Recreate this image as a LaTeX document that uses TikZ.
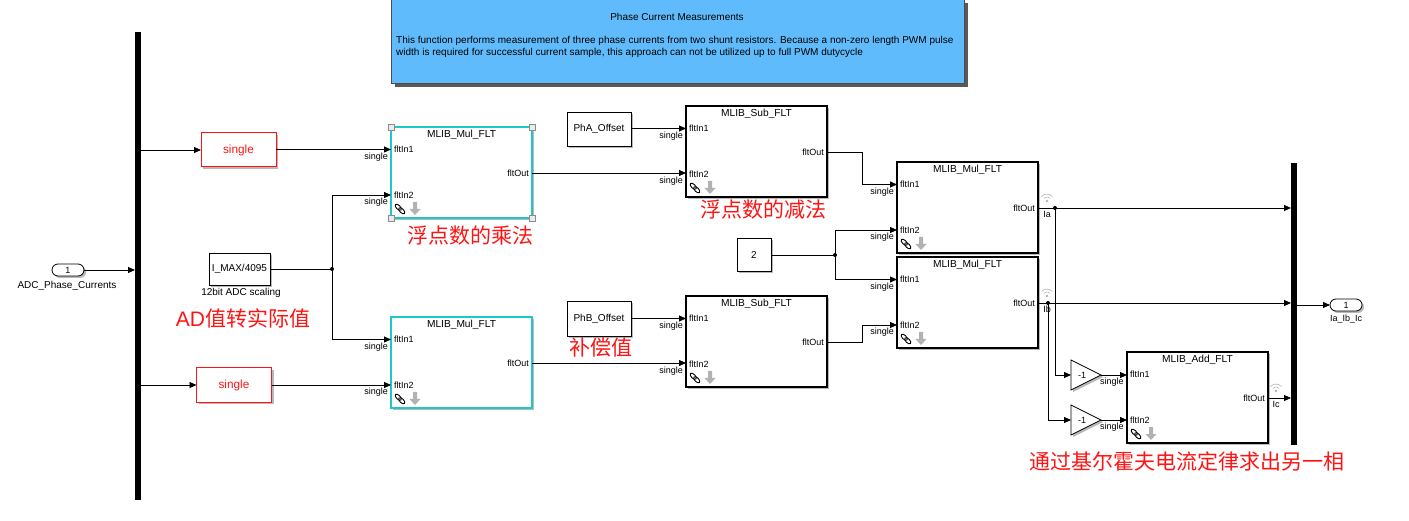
\documentclass[tikz,border=0pt]{standalone}
\usepackage{fontspec}
\setmainfont{Liberation Sans}
\newfontfamily\cjk{Noto Sans CJK SC}
\usetikzlibrary{arrows.meta,shadows,calc}
\definecolor{descblue}{RGB}{95,187,251}
\definecolor{cyanb}{RGB}{30,200,200}
\definecolor{redc}{RGB}{255,20,20}
\newcommand\fsn{\fontsize{10.2}{12}\selectfont}
\newcommand\fsd{\fontsize{10}{12}\selectfont}
\newcommand\fss{\fontsize{9}{10}\selectfont}
\newcommand\fsr{\fontsize{11.8}{13}\selectfont}
\newcommand\fcn{\cjk\fontsize{21}{23}\selectfont}
\tikzset{
  arr/.style={-{Triangle[length=7pt,width=6pt]}, line width=0.8pt},
  wire/.style={line width=0.8pt},
  shad/.style={general shadow={fill=black!28, shadow xshift=2pt, shadow yshift=-2pt}},
  mlibbox/.style={draw, line width=2pt, fill=white, shad, minimum width=141, minimum height=91, inner sep=0, outer sep=0},
  cyanbox/.style={mlibbox, draw=cyanb},
  srcbox/.style={draw, line width=0.8pt, fill=white, shad, inner sep=0, outer sep=0, font=\fsd},
  redbox/.style={srcbox, draw=redc, text=redc, line width=1pt, font=\fsr, minimum width=75, minimum height=34},
  sglab/.style={font=\fss, inner sep=0},
  redlab/.style={text=redc, font=\fcn, inner sep=0},
  icons/.pic={
    \draw[line width=0.9pt, rotate=-45] (-2.5,0) ellipse[x radius=3.9, y radius=2.0];
    \draw[line width=0.9pt, rotate=-45] (2.5,0) ellipse[x radius=3.9, y radius=2.0];
    \fill[black!30] (13,-7) -- (17,-7) -- (17,0) -- (20.5,0) -- (15,6) -- (9.5,0) -- (13,0) -- cycle;
  },
  wifi/.pic={
    \fill[black!30] (0,0) circle (1.3);
    \draw[black!30, line width=0.6pt] ($(0,0)+(-40:4)$) arc[start angle=-40, end angle=-140, radius=4];
    \draw[black!30, line width=0.6pt] ($(0,0)+(-40:7)$) arc[start angle=-40, end angle=-140, radius=7];
  },
  handle/.style={draw=black!45, fill=black!8, line width=0.5pt, minimum size=6, inner sep=0}
}
% name, style, left, top, title
\newcommand\mlib[5]{%
  \node[#2, anchor=north west] (#1) at (#3,#4) {};
  \node[font=\fsn] at ($(#1.north)+(0,8)$) {#5};
  \node[font=\fss, anchor=west, inner sep=0] at ($(#1.north west)+(3,22.5)$) {fltIn1};
  \node[font=\fss, anchor=west, inner sep=0] at ($(#1.north west)+(3,68)$) {fltIn2};
  \node[font=\fss, anchor=east, inner sep=0] at ($(#1.north east)+(-3,46)$) {fltOut};
  \coordinate (#1i1) at ($(#1.north west)+(0,22.5)$);
  \coordinate (#1i2) at ($(#1.north west)+(0,68)$);
  \coordinate (#1o) at ($(#1.north east)+(0,46)$);
  \pic at ($(#1.south west)+(9,-9)$) {icons};
}
\begin{document}
\begin{tikzpicture}[x=1pt,y=-1pt]
\useasboundingbox (0,0) rectangle (1409,521);
\fill[white] (0,0) rectangle (1409,521);

% description box
\node[draw=black!70, fill=descblue, line width=0.6pt, minimum width=573, minimum height=84, anchor=north west, inner sep=0,
      general shadow={fill=black!65, shadow xshift=3.5pt, shadow yshift=-3.5pt}] (desc) at (391,-1) {};
\node[font=\fsd] (desct) at (677,17) {Phase Current Measurements};
\node[font=\fsd, anchor=west, inner sep=0] (descl1) at (396,41) {This function performs measurement of three phase currents from two shunt resistors. Because a non-zero length PWM pulse};
\node[font=\fsd, anchor=west, inner sep=0] (descl2) at (396,53) {width is required for successful current sample, this approach can not be utilized up to full PWM dutycycle};

% bars
\node[fill=black, minimum width=6, minimum height=468, inner sep=0, outer sep=0] (bar1) at (138,266) {};
\node[fill=black, minimum width=6, minimum height=282, inner sep=0, outer sep=0] (bar2) at (1294,304) {};

% inport
\node[draw, fill=white, shad, rounded corners=6, minimum width=32, minimum height=12, inner sep=0, outer sep=0, line width=0.8pt, font=\fss] (inp) at (68,270) {1};
\node[font=\fsd] (inplab) at (67,286) {ADC\_Phase\_Currents};
\draw[arr] (inp) -- (inp -| bar1.west);

% single conversions
\node[redbox] (sg1) at (238.5,150) {single};
\node[redbox] (sg2) at (234,385) {single};
\draw[arr] (bar1.east |- sg1) -- (sg1);
\draw[arr] (bar1.east |- sg2) -- (sg2);

% scaling const
\node[srcbox, minimum width=61, minimum height=32] (imax) at (239.5,269) {I\_MAX/4095};
\node[font=\fsd] (imaxlab) at (241,293) {12bit ADC scaling};

% MLIB blocks
\mlib{mul1}{cyanbox}{391}{127}{MLIB\_Mul\_FLT}
\mlib{mul2}{cyanbox}{391}{317}{MLIB\_Mul\_FLT}
\mlib{sub1}{mlibbox}{686}{106}{MLIB\_Sub\_FLT}
\mlib{sub2}{mlibbox}{686}{296}{MLIB\_Sub\_FLT}
\mlib{mul3}{mlibbox}{897}{162}{MLIB\_Mul\_FLT}
\mlib{mul4}{mlibbox}{897}{257}{MLIB\_Mul\_FLT}
\mlib{add}{mlibbox}{1127}{352}{MLIB\_Add\_FLT}

% selection handles on mul1
\node[handle] (h1) at (mul1.north west) {};
\node[handle] (h2) at (mul1.north east) {};
\node[handle] (h3) at (mul1.south west) {};
\node[handle] (h4) at (mul1.south east) {};

% wires left
\draw[arr] (sg1.east |- mul1i1) -- (mul1i1);
\draw[arr] (sg2.east |- mul2i2) -- (mul2i2);
\coordinate (j1) at (332,269);
\draw[wire] (imax) -- (j1);
\fill (j1) circle (2);
\draw[arr] (j1) |- (mul1i2);
\draw[arr] (j1) |- (mul2i1);
\node[sglab, anchor=north east] at ($(mul1i1)+(-3,3)$) {single};
\node[sglab, anchor=north east] at ($(mul1i2)+(-3,3)$) {single};
\node[sglab, anchor=north east] at ($(mul2i1)+(-3,3)$) {single};
\node[sglab, anchor=north east] at ($(mul2i2)+(-3,3)$) {single};

% offsets
\node[srcbox, minimum width=64, minimum height=34] (pha) at (599,129) {PhA\_Offset};
\node[srcbox, minimum width=64, minimum height=35] (phb) at (599,318.5) {PhB\_Offset};
\draw[arr] (pha.east |- sub1i1) -- (sub1i1);
\draw[arr] (phb.east |- sub2i1) -- (sub2i1);
\draw[arr] (mul1o) -- (mul1o -| sub1i2);
\draw[arr] (mul2o) -- (mul2o -| sub2i2);
\node[sglab, anchor=north east] at ($(sub1i1)+(-3,3)$) {single};
\node[sglab, anchor=north east] at ($(sub1i2)+(-3,3)$) {single};
\node[sglab, anchor=north east] at ($(sub2i1)+(-3,3)$) {single};
\node[sglab, anchor=north east] at ($(sub2i2)+(-3,3)$) {single};

% const 2
\node[srcbox, minimum width=34, minimum height=33] (c2) at (754,255) {2};
\coordinate (j2) at (835,255);
\draw[wire] (c2) -- (j2);
\fill (j2) circle (2);
\draw[arr] (j2) |- (mul3i2);
\draw[arr] (j2) |- (mul4i1);
\draw[arr] (sub1o) -- ++(35,0) |- (mul3i1);
\draw[arr] (sub2o) -- ++(35,0) |- (mul4i2);
\node[sglab, anchor=north east] at ($(mul3i1)+(-3,3)$) {single};
\node[sglab, anchor=north east] at ($(mul3i2)+(-3,3)$) {single};
\node[sglab, anchor=north east] at ($(mul4i1)+(-3,3)$) {single};
\node[sglab, anchor=north east] at ($(mul4i2)+(-3,3)$) {single};

% outputs Ia Ib
\coordinate (ja) at ($(mul3o)+(17,0)$);
\coordinate (jb) at ($(mul4o)+(10,0)$);
\draw[arr] (mul3o) -- (mul3o -| bar2.west);
\draw[arr] (mul4o) -- (mul4o -| bar2.west);
\fill (ja) circle (2);
\fill (jb) circle (2);
\node[font=\fss, anchor=north, inner sep=0] (ialab) at ($(mul3o)+(9,3)$) {Ia};
\node[font=\fss, anchor=north, inner sep=0] (iblab) at ($(mul4o)+(9,3)$) {Ib};
\pic at ($(mul3o)+(9,-7)$) {wifi};
\pic at ($(mul4o)+(9,-7)$) {wifi};

% gains
\coordinate (g1i) at (1071,375);
\coordinate (g2i) at (1071,420);
\filldraw[fill=white, line width=0.8pt, shad] (1071,360) -- (1101,375) -- (1071,390) -- cycle;
\filldraw[fill=white, line width=0.8pt, shad] (1071,405) -- (1101,420) -- (1071,435) -- cycle;
\node[font=\fss] (g1) at (1082,375) {-1};
\node[font=\fss] (g2) at (1082,420) {-1};
\coordinate (g1o) at (1101,375);
\coordinate (g2o) at (1101,420);
\draw[arr] (ja) |- (g1i);
\draw[arr] (jb) |- (g2i);
\draw[arr] (g1o) -- (g1o -| addi1);
\draw[arr] (g2o) -- (g2o -| addi2);
\node[sglab, anchor=north west] at ($(g1o)+(-1,3)$) {single};
\node[sglab, anchor=north west] at ($(g2o)+(-1,3)$) {single};

% Ic
\draw[arr] (addo) -- (addo -| bar2.west);
\node[font=\fss, anchor=north, inner sep=0] (iclab) at ($(addo)+(8,3)$) {Ic};
\pic at ($(addo)+(8,-7)$) {wifi};

% outport
\node[draw, fill=white, shad, rounded corners=6, minimum width=32, minimum height=12, inner sep=0, outer sep=0, line width=0.8pt, font=\fss] (outp) at (1346,305) {1};
\node[font=\fss] (outlab) at (1346,319) {Ia\_Ib\_Ic};
\draw[arr] (bar2.east |- outp) -- (outp);

% annotations
\node[redlab] (n1) at (470,236) {浮点数的乘法};
\node[redlab] (n2) at (763,210) {浮点数的减法};
\node[redlab] (n3) at (243,318) {\fontspec{Liberation Sans}\fontsize{21}{23}\selectfont AD\cjk 值转实际值};
\node[redlab] (n4) at (601,347) {补偿值};
\node[redlab] (n5) at (1187,461) {通过基尔霍夫电流定律求出另一相};
\end{tikzpicture}
\end{document}
